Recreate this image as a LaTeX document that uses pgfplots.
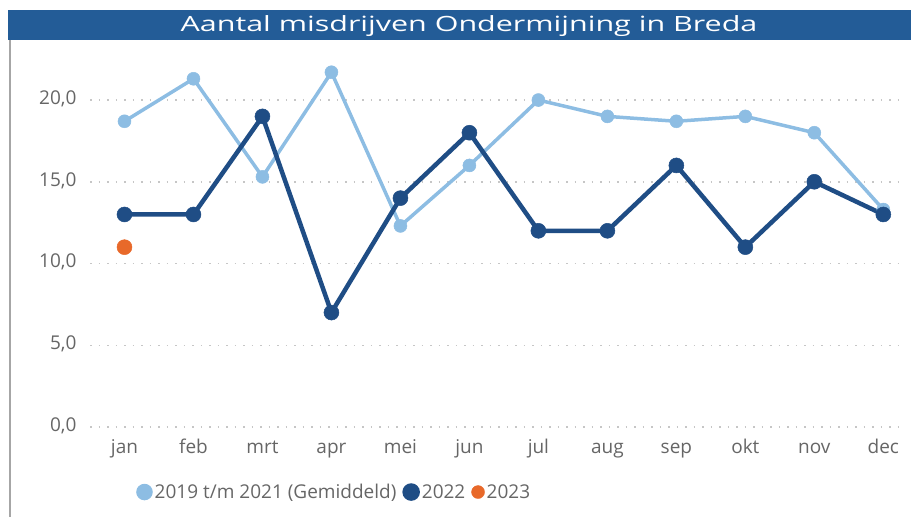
\documentclass[border=0pt]{standalone}
\usepackage{pgfplots}
\pgfplotsset{compat=1.18}
\usepackage{fontspec}
\setmainfont{Open Sans}
\definecolor{lightser}{HTML}{8DBDE3}
\definecolor{darkser}{HTML}{1F4D85}
\definecolor{orangeser}{HTML}{E8692A}
\definecolor{titlebar}{HTML}{235C97}
\definecolor{ticktxt}{HTML}{666666}
\begin{document}
\begin{tikzpicture}[x=1bp,y=1bp]
\useasboundingbox (0,0) rectangle (911,517);
\fill[titlebar] (8,477) rectangle (911,507);
\node[white, font=\fontsize{21bp}{24bp}\selectfont] at (469,491) {\scalebox{1.45}[1]{Aantal misdrijven Ondermijning in Breda}};
\draw[gray!70, line width=2bp] (10,0) -- (10,477);
\begin{axis}[
  at={(90bp,90bp)}, anchor=south west,
  scale only axis, width=814bp, height=376bp,
  xmin=-0.5, xmax=11.3, ymin=0, ymax=23,
  axis line style={draw=none}, tick style={draw=none},
  xtick={0,...,11},
  xticklabels={jan,feb,mrt,apr,mei,jun,jul,aug,sep,okt,nov,dec},
  typeset ticklabels with strut,
  ytick={0,5,10,15,20},
  ymajorgrids, grid style={dash pattern=on 1.5bp off 7bp, gray!45, line width=1.5bp},
  /pgf/number format/use comma, /pgf/number format/fixed,
  /pgf/number format/fixed zerofill, /pgf/number format/precision=1,
  /pgf/number format/assume math mode=true,
  tick label style={font=\fontsize{19bp}{22bp}\selectfont, text=ticktxt},
  xticklabel style={yshift=-8bp},
  yticklabel style={xshift=-10bp},
  legend style={at={(0.30,-0.173)}, anchor=center, draw=none, fill=none,
    legend columns=-1, font=\fontsize{19bp}{22bp}\selectfont, text=ticktxt,
    /tikz/every even column/.append style={column sep=4bp}},
  legend image code/.code={\fill[#1] (4bp,0bp) circle (6.5bp);},
]
\addplot[lightser, line width=3.5bp, mark=*, mark size=6.5bp, mark options={fill=lightser, draw=lightser, line width=0.5bp}] coordinates {
(0,18.7)(1,21.3)(2,15.3)(3,21.7)(4,12.3)(5,16)(6,20)(7,19)(8,18.7)(9,19)(10,18)(11,13.3)};
\addlegendentry{2019 t/m 2021 (Gemiddeld)}
\addplot[darkser, line width=4.5bp, mark=*, mark size=7.5bp, mark options={fill=darkser, draw=darkser, line width=0.5bp}] coordinates {
(0,13)(1,13)(2,19)(3,7)(4,14)(5,18)(6,12)(7,12)(8,16)(9,11)(10,15)(11,13)};
\addlegendentry{2022}
\addplot[orangeser, only marks, mark=*, mark size=7.5bp, mark options={fill=orangeser, draw=orangeser, line width=0.5bp}] coordinates {(0,11)};
\addlegendentry{2023}
\end{axis}
\end{tikzpicture}
\end{document}
